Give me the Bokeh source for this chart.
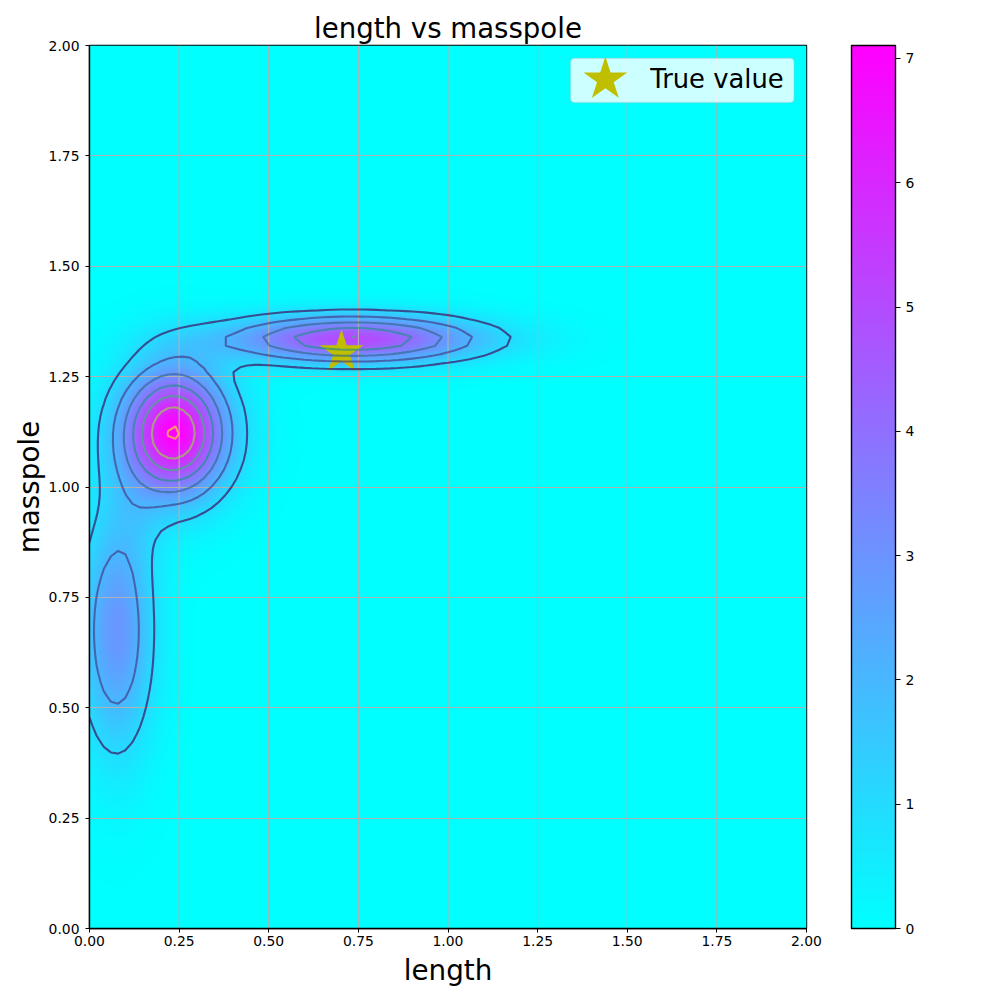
import numpy as np
from bokeh.plotting import figure
from bokeh.models import (LinearColorMapper, ColorBar, FixedTicker, NumeralTickFormatter,
                          BoxAnnotation, Label, Span)
from bokeh.embed import file_html
from bokeh.resources import INLINE

# Density blobs: centre, spread, height
blob_x = [0.234, 0.735, 0.075, 0.34, 0.14]
blob_y = [1.123, 1.335, 0.674, 1.10, 0.92]
blob_sx = [0.102, 0.245, 0.072, 0.12, 0.05]
blob_sy = [0.100, 0.037, 0.19, 0.10, 0.08]
blob_h = [7.01, 5.05, 2.92, 0.12, 0.25]

levels = [1, 2, 3, 4, 5, 6, 7]
level_colors = ["#440154", "#443983", "#31688e", "#21918c", "#35b779", "#90d743", "#fde725"]
ticks = [0, 0.25, 0.5, 0.75, 1.0, 1.25, 1.5, 1.75, 2.0]
cbar_ticks = [0, 1, 2, 3, 4, 5, 6, 7]
true_length = [0.703]
true_masspole = [1.305]
cbar_high = 7.104


def density(n):
    xs = np.linspace(0, 2, n)
    ys = np.linspace(0, 2, n)
    X, Y = np.meshgrid(xs, ys)
    Z = np.zeros_like(X)
    for cx, cy, sx, sy, h in zip(blob_x, blob_y, blob_sx, blob_sy, blob_h):
        Z += h * np.exp(-0.5 * (((X - cx) / sx) ** 2 + ((Y - cy) / sy) ** 2))
    return xs, ys, Z


palette = ["#%02x%02xff" % (i, 255 - i) for i in range(256)]
mapper = LinearColorMapper(palette=palette, low=0, high=cbar_high)

p = figure(width=984, height=984, frame_width=717, frame_height=883,
           x_range=(0, 2), y_range=(0, 2), output_backend="svg", toolbar_location=None,
           min_border_left=89, min_border_top=45, min_border_right=178, min_border_bottom=56,
           title="length vs masspole", x_axis_label="length", y_axis_label="masspole")

p.title.align = "center"
p.title.text_font = "DejaVu Sans"
p.title.text_font_size = "27.6px"
p.title.text_font_style = "normal"
p.title.text_color = "black"
p.title.standoff = 2

for ax in (p.xaxis[0], p.yaxis[0]):
    ax.ticker = FixedTicker(ticks=ticks)
    ax.formatter = NumeralTickFormatter(format="0.00")
    ax.major_label_text_font = "DejaVu Sans"
    ax.major_label_text_font_size = "13.9px"
    ax.major_label_text_color = "black"
    ax.axis_label_text_font = "DejaVu Sans"
    ax.axis_label_text_font_size = "27.8px"
    ax.axis_label_text_font_style = "normal"
    ax.axis_label_text_color = "black"
    ax.major_tick_in = 0
    ax.major_tick_out = 4
    ax.major_tick_line_color = "black"
    ax.minor_tick_line_color = None
    ax.axis_line_color = "black"
    ax.axis_line_width = 1.4
p.xaxis[0].major_label_standoff = 3
p.xaxis[0].axis_label_standoff = 5
p.yaxis[0].major_label_standoff = 6
p.yaxis[0].axis_label_standoff = 0
p.yaxis[0].major_label_orientation = "horizontal"

p.outline_line_color = "black"
p.outline_line_width = 1.4
p.xgrid.visible = False
p.ygrid.grid_line_color = "#b0b0b0"
p.ygrid.grid_line_width = 1.1

xs, ys, Z = density(500)
p.image(image=[Z], x=0, y=0, dw=2, dh=2, color_mapper=mapper, level="image")
for t in ticks[1:-1]:
    p.add_layout(Span(location=t, dimension="height", line_color="#b0b0b0", line_width=1.1,
                      level="underlay"))

p.scatter(true_length, true_masspole, marker="star", size=46, color="#bfbf00", line_width=0)

gx, gy, gz = density(101)
p.contour(gx, gy, gz, levels, line_color=level_colors,
          line_alpha=0.65, line_width=2.1, fill_color=None)

# Legend
box = BoxAnnotation(left=1.342, right=1.965, bottom=1.871, top=1.971, fill_color="white",
                    fill_alpha=0.8, line_color="#bbbbbb", line_width=1.4, border_radius=4,
                    level="annotation")
p.add_layout(box)
p.add_layout(Label(x=1.564, y=1.925, text="True value", text_font="DejaVu Sans",
                   text_font_size="25.8px", text_baseline="middle", text_color="black"))
p.scatter([1.439], [1.923], marker="star", size=46, color="#bfbf00", line_width=0, level="overlay")

cb = ColorBar(color_mapper=mapper, ticker=FixedTicker(ticks=cbar_ticks), width=44, height=883,
              location=(762, 0), padding=0, margin=0, major_tick_in=0, major_tick_out=5,
              major_tick_line_color="black", minor_tick_line_color=None, bar_line_color="black",
              bar_line_width=1.4, major_label_text_font="DejaVu Sans",
              major_label_text_font_size="13.9px", major_label_text_color="black",
              label_standoff=5, background_fill_alpha=0, border_line_color=None)
p.add_layout(cb)

open("out.html", "w").write(file_html(p, INLINE))
